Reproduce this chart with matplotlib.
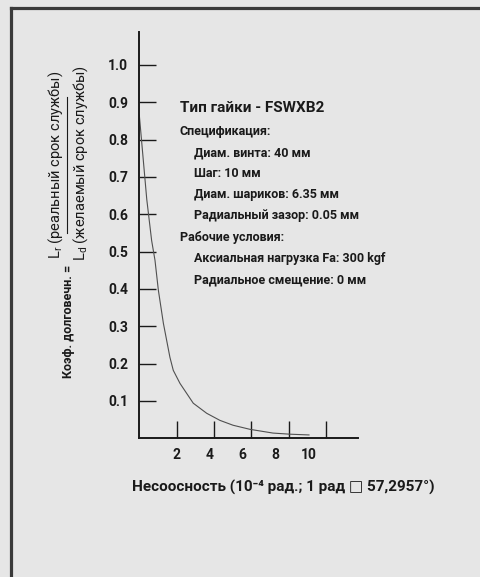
import numpy as np
import matplotlib.pyplot as plt

plt.rcParams['font.family'] = ['Roboto', 'DejaVu Sans']

# curve (x in 10^-4 rad, y = life factor)
mis_x = [0.0, 0.40, 0.66, 0.84, 1.02, 1.29, 1.64, 1.82, 2.18, 2.89, 3.61,
         4.32, 5.02, 5.93, 7.16, 8.07, 9.09]
life_y = [0.866, 0.64, 0.53, 0.477, 0.397, 0.308, 0.217, 0.182, 0.147, 0.094,
          0.067, 0.048, 0.035, 0.024, 0.014, 0.011, 0.009]

x_ticks = [2, 4, 6, 8, 10]
y_ticks = [0.1, 0.2, 0.3, 0.4, 0.5, 0.6, 0.7, 0.8, 0.9, 1.0]

title_txt = "Тип гайки - FSWXB2"
spec_lines = [("Спецификация:", 0),
              ("Диам. винта: 40 мм", 1),
              ("Шаг: 10 мм", 1),
              ("Диам. шариков: 6.35 мм", 1),
              ("Радиальный зазор: 0.05 мм", 1),
              ("Рабочие условия:", 0),
              ("Аксиальная нагрузка Fa: 300 kgf", 1),
              ("Радиальное смещение: 0 мм", 1)]

W, H = 480, 577
bg = '#e6e6e6'
ink = '#1a1a1a'
fig = plt.figure(figsize=(W / 100, H / 100), dpi=100, facecolor=bg)

# outer frame (only top and left edges are visible)
fx, fy = 10.5 / W, 1 - 7.5 / H
fig.add_artist(plt.Line2D([fx, 1.01], [fy, fy], transform=fig.transFigure,
                          color='#3a3a3a', lw=2.3))
fig.add_artist(plt.Line2D([fx, fx], [-0.01, fy], transform=fig.transFigure,
                          color='#3a3a3a', lw=2.3))

ax = fig.add_axes([139.3 / W, 1 - 438.3 / H, (358 - 139.3) / W, (438.3 - 32) / H])
ax.set_facecolor(bg)
ax.plot(mis_x, life_y, color='#505050', lw=0.8)

ax.set_xlim(0, (358 - 139.3) / 18.67)
ax.set_ylim(0, (438.3 - 32) / 373.3)
for s in ['top', 'right']:
    ax.spines[s].set_visible(False)
for s in ['left', 'bottom']:
    ax.spines[s].set_linewidth(1.4)
    ax.spines[s].set_color(ink)

ax.set_yticks(y_ticks)
ax.set_yticklabels(['%.1f' % v for v in y_ticks], fontsize=10, fontweight='bold',
                   color=ink)
ax.tick_params(axis='y', direction='in', length=12, width=1.0, color=ink, pad=8)

ax.set_xticks(x_ticks)
ax.set_xticklabels([])
ax.tick_params(axis='x', direction='in', length=12, width=1.0, color=ink)
# tick labels in the original sit slightly off the tick marks
for v in x_ticks:
    ax.text(2 + (v - 2) * 0.885, -0.04, str(v), ha='center', va='center',
            fontsize=10, fontweight='bold', color=ink,
            transform=ax.get_xaxis_transform())

fig.text(0.5 * (133 + 433) / W, 1 - 487 / H,
         "Несоосность (10⁻⁴ рад.; 1 рад □ 57,2957°)",
         ha='center', va='center', fontsize=11, fontweight='bold', color=ink)

# annotation block
fig.text(180 / W, 1 - 108 / H, title_txt, fontsize=11, fontweight='bold',
         va='center', ha='left', color=ink)
spec_y = [131.7, 152.7, 173.3, 194.3, 216, 237.7, 258.3, 280]
for (txt, ind), yy in zip(spec_lines, spec_y):
    fig.text((180 + 14 * ind) / W, 1 - yy / H, txt, fontsize=9, fontweight='bold',
             va='center', ha='left', color=ink)

# y label: Коэф. долговечн. = Lr / Ld
fig.text(68.5 / W, 1 - 265 / H, "Коэф. долговечн. =", rotation=90, fontsize=9,
         fontweight='bold', ha='center', va='top', color=ink)
fig.text(56 / W, 1 - 164.5 / H, "L$_{\\mathregular{r}}$ (реальный срок службы)",
         rotation=90, fontsize=10.5, ha='center', va='center', color=ink)
fig.text(81 / W, 1 - 163 / H, "L$_{\\mathregular{d}}$ (желаемый срок службы)",
         rotation=90, fontsize=10.5, ha='center', va='center', color=ink)
fig.add_artist(plt.Line2D([66.5 / W, 66.5 / W], [1 - 233 / H, 1 - 97 / H],
                          transform=fig.transFigure, color=ink, lw=0.8))

fig.savefig('out.png', dpi=100, facecolor=bg)
